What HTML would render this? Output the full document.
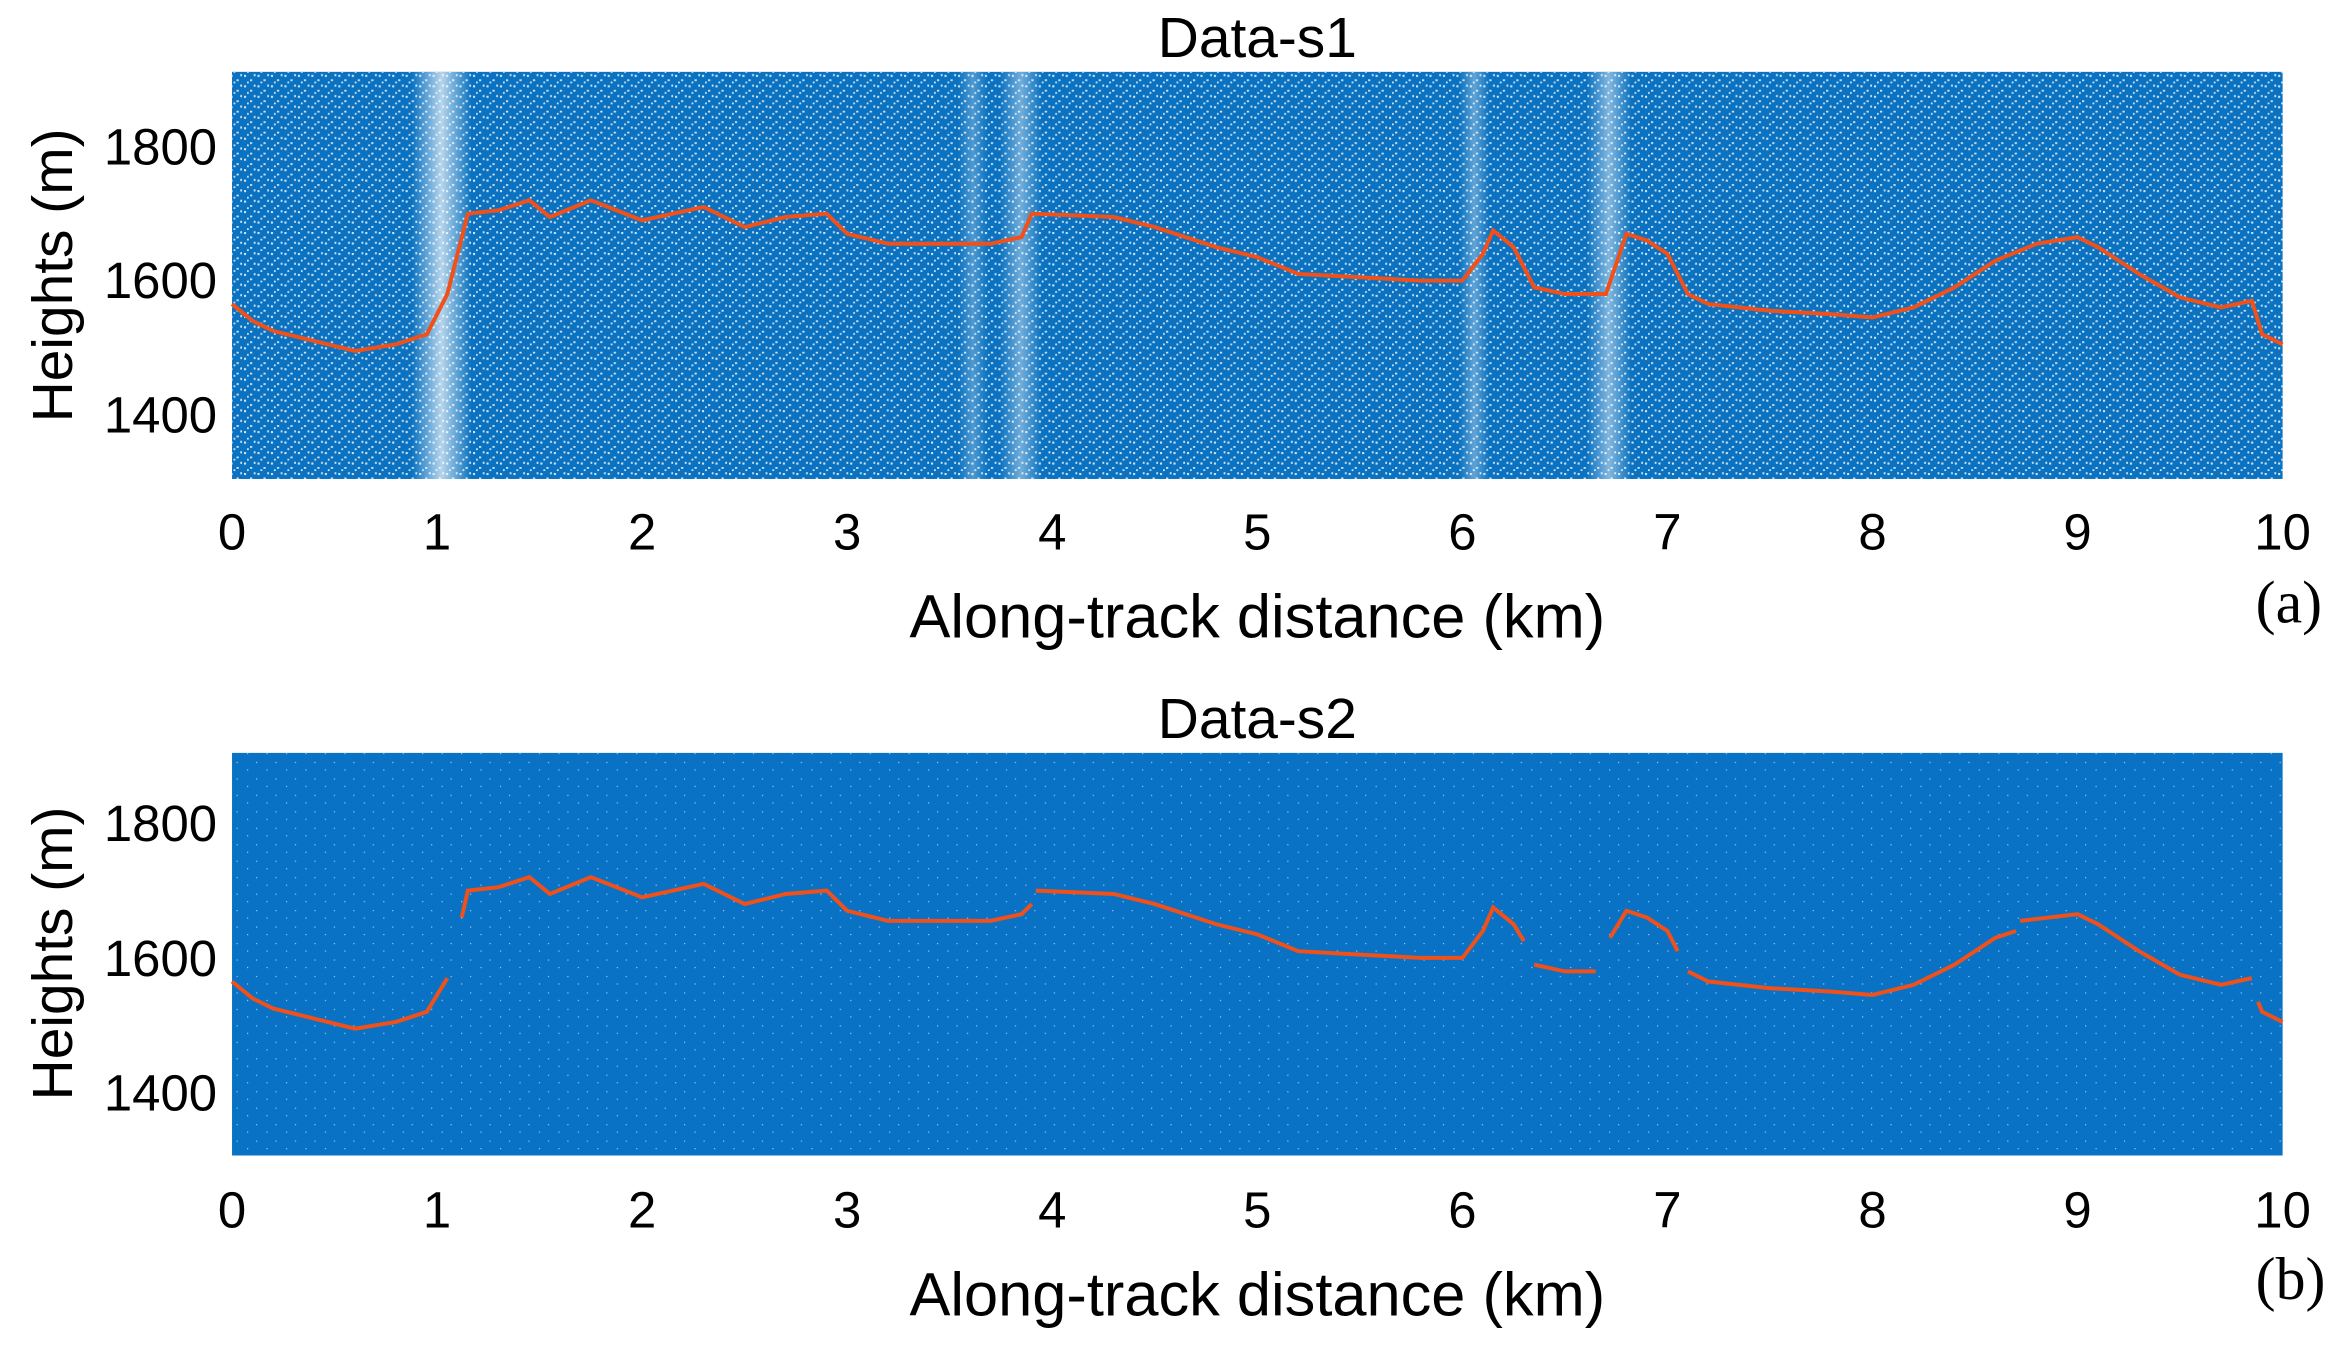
<!DOCTYPE html>
<html><head><meta charset="utf-8"><style>html,body{margin:0;padding:0;background:#fff}svg{display:block}</style></head>
<body>
<svg width="2347" height="1345" viewBox="0 0 1568 898.6" xmlns="http://www.w3.org/2000/svg" font-family="Liberation Sans, sans-serif">
<defs>
<pattern id="pa" width="9" height="7" patternUnits="userSpaceOnUse">
<rect x="1" y="1" width="1.4" height="1.4" fill="#fff"/><rect x="5" y="4" width="1.5" height="1.2" fill="#fff"/><rect x="7.5" y="0.5" width="1.2" height="1.4" fill="#fff"/><rect x="3" y="5.5" width="1.2" height="1.2" fill="#fff"/>
</pattern>
<pattern id="pb" width="13" height="11" patternUnits="userSpaceOnUse">
<rect x="2" y="3" width="0.8" height="0.8" fill="#9cc8ee"/><rect x="9" y="8" width="0.8" height="0.8" fill="#9cc8ee"/>
</pattern>
<linearGradient id="band" x1="0" x2="1"><stop offset="0" stop-color="#fff" stop-opacity="0"/><stop offset="0.5" stop-color="#fff" stop-opacity="0.7"/><stop offset="1" stop-color="#fff" stop-opacity="0"/></linearGradient>
</defs>
<!-- panel a -->
<text x="840" y="38" font-size="38" text-anchor="middle">Data-s1</text>
<rect x="155" y="48" width="1370" height="272" fill="#0a72c0"/>
<rect x="155" y="48" width="1370" height="272" fill="url(#pa)" opacity="0.8"/>
<rect x="275" y="48" width="40" height="272" fill="url(#band)"/>
<rect x="668" y="48" width="28" height="272" fill="url(#band)" opacity="0.6"/>
<rect x="975" y="48" width="20" height="272" fill="url(#band)" opacity="0.5"/>
<rect x="1060" y="48" width="30" height="272" fill="url(#band)" opacity="0.7"/>
<rect x="640" y="48" width="20" height="272" fill="url(#band)" opacity="0.4"/>
<g font-size="34" text-anchor="end"><text x="145" y="110">1800</text><text x="145" y="199">1600</text><text x="145" y="289">1400</text></g>
<text transform="translate(48,184) rotate(-90)" font-size="38" text-anchor="middle">Heights (m)</text>
<g font-size="34" text-anchor="middle">
<text x="155" y="367">0</text><text x="292" y="367">1</text><text x="429" y="367">2</text><text x="566" y="367">3</text><text x="703" y="367">4</text><text x="840" y="367">5</text><text x="977" y="367">6</text><text x="1114" y="367">7</text><text x="1251" y="367">8</text><text x="1388" y="367">9</text><text x="1525" y="367">10</text></g>
<text x="840" y="426" font-size="41" text-anchor="middle">Along-track distance (km)</text>
<text x="1507" y="416" font-size="40" font-family="Liberation Serif, serif">(a)</text>
<g transform="translate(155,98) scale(137,-0.4475)">
<polyline vector-effect="non-scaling-stroke" fill="none" stroke="#f0501a" stroke-width="4" points="0,-235 0.1,-260 0.2,-275 0.4,-290 0.6,-305 0.8,-295 0.95,-280 1.05,-220 1.15,-100 1.3,-95 1.45,-80 1.55,-105 1.75,-80 2.0,-110 2.3,-90 2.5,-120 2.7,-105 2.9,-100 3.0,-130 3.2,-145 3.5,-145 3.7,-145 3.85,-135 3.9,-100 4.3,-105 4.5,-120 4.8,-150 5.0,-165 5.2,-190 5.5,-195 5.8,-200 6.0,-200 6.1,-160 6.15,-125 6.25,-150 6.35,-210 6.5,-220 6.7,-220 6.8,-130 6.9,-140 7.0,-160 7.1,-220 7.2,-235 7.5,-245 7.8,-250 8.0,-255 8.2,-240 8.4,-210 8.6,-170 8.8,-145 9.0,-135 9.1,-150 9.3,-190 9.5,-225 9.7,-240 9.85,-230 9.9,-280 10,-295"/>
</g>
<!-- panel b -->
<text x="840" y="493" font-size="38" text-anchor="middle">Data-s2</text>
<rect x="155" y="503" width="1370" height="269" fill="#0a72c4"/>
<rect x="155" y="503" width="1370" height="269" fill="url(#pb)"/>
<g font-size="34" text-anchor="end"><text x="145" y="562">1800</text><text x="145" y="652">1600</text><text x="145" y="742">1400</text></g>
<text transform="translate(48,637) rotate(-90)" font-size="38" text-anchor="middle">Heights (m)</text>
<g font-size="34" text-anchor="middle">
<text x="155" y="820">0</text><text x="292" y="820">1</text><text x="429" y="820">2</text><text x="566" y="820">3</text><text x="703" y="820">4</text><text x="840" y="820">5</text><text x="977" y="820">6</text><text x="1114" y="820">7</text><text x="1251" y="820">8</text><text x="1388" y="820">9</text><text x="1525" y="820">10</text></g>
<text x="840" y="879" font-size="41" text-anchor="middle">Along-track distance (km)</text>
<text x="1507" y="868" font-size="40" font-family="Liberation Serif, serif">(b)</text>
<g transform="translate(155,550) scale(137,-0.45)" fill="none" stroke="#f0501a" stroke-width="4">
<polyline vector-effect="non-scaling-stroke" points="0,-235 0.1,-260 0.2,-275 0.4,-290 0.6,-305 0.8,-295 0.95,-280 1.05,-230"/>
<polyline vector-effect="non-scaling-stroke" points="1.12,-140 1.15,-100 1.3,-95 1.45,-80 1.55,-105 1.75,-80 2.0,-110 2.3,-90 2.5,-120 2.7,-105 2.9,-100 3.0,-130 3.2,-145 3.5,-145 3.7,-145 3.85,-135 3.9,-120"/>
<polyline vector-effect="non-scaling-stroke" points="3.92,-100 4.3,-105 4.5,-120 4.8,-150 5.0,-165 5.2,-190 5.5,-195 5.8,-200 6.0,-200 6.1,-160 6.15,-125 6.25,-150 6.3,-175"/>
<polyline vector-effect="non-scaling-stroke" points="6.35,-210 6.5,-220 6.65,-220"/>
<polyline vector-effect="non-scaling-stroke" points="6.72,-170 6.8,-130 6.9,-140 7.0,-160 7.05,-190"/>
<polyline vector-effect="non-scaling-stroke" points="7.1,-220 7.2,-235 7.5,-245 7.8,-250 8.0,-255 8.2,-240 8.4,-210 8.6,-170 8.7,-160"/>
<polyline vector-effect="non-scaling-stroke" points="8.72,-145 9.0,-135 9.1,-150 9.3,-190 9.5,-225 9.7,-240 9.85,-230"/>
<polyline vector-effect="non-scaling-stroke" points="9.88,-265 9.9,-280 10,-295"/>
</g>
</svg>
</body></html>
